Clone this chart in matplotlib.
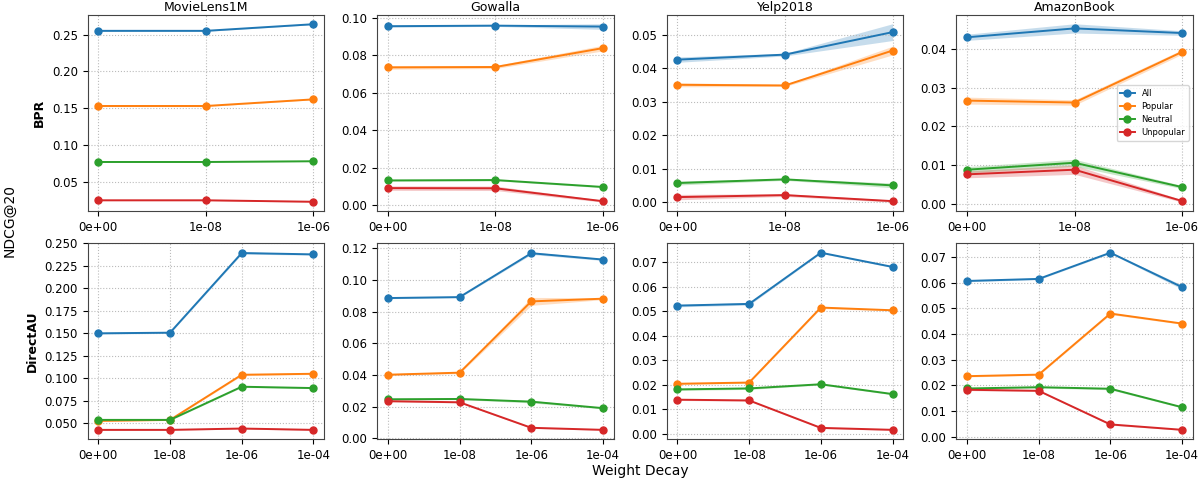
import matplotlib.pyplot as plt
from matplotlib.ticker import MaxNLocator
import numpy as np

# weight decay settings
wd_bpr = ['0e+00', '1e-08', '1e-06']
wd_dau = ['0e+00', '1e-08', '1e-06', '1e-04']

datasets = ['MovieLens1M', 'Gowalla', 'Yelp2018', 'AmazonBook']
groups = ['All', 'Popular', 'Neutral', 'Unpopular']
colors = ['#1f77b4', '#ff7f0e', '#2ca02c', '#d62728']

# BPR means (All, Popular, Neutral, Unpopular)
bpr_ml = [[0.255, 0.255, 0.264], [0.153, 0.153, 0.162], [0.077, 0.077, 0.078], [0.025, 0.025, 0.023]]
bpr_gw = [[0.0955, 0.0958, 0.0953], [0.0735, 0.0737, 0.0838], [0.0131, 0.0133, 0.0096], [0.0090, 0.0089, 0.0020]]
bpr_yp = [[0.0426, 0.0441, 0.0508], [0.0351, 0.0349, 0.0453], [0.0058, 0.0069, 0.0051], [0.0016, 0.0022, 0.0004]]
bpr_ab = [[0.0431, 0.0454, 0.0442], [0.0267, 0.0262, 0.0393], [0.0088, 0.0106, 0.0043], [0.0076, 0.0088, 0.0007]]

# BPR spread
bpr_ml_sd = [[0.0008, 0.0008, 0.0006], [0.0008, 0.0008, 0.0006], [0.0006, 0.0006, 0.0005], [0.0006, 0.0006, 0.0005]]
bpr_gw_sd = [[0.0005, 0.0004, 0.0015], [0.0010, 0.0008, 0.0015], [0.0004, 0.0004, 0.0004], [0.0012, 0.0012, 0.0005]]
bpr_yp_sd = [[0.0008, 0.0004, 0.0025], [0.0006, 0.0003, 0.0013], [0.0006, 0.0003, 0.0007], [0.0008, 0.0004, 0.0003]]
bpr_ab_sd = [[0.0008, 0.0012, 0.0006], [0.0009, 0.0007, 0.0006], [0.0008, 0.0009, 0.0004], [0.0009, 0.0012, 0.0003]]

# DirectAU means
dau_ml = [[0.150, 0.1507, 0.2393, 0.2378], [0.0526, 0.0537, 0.1039, 0.1050],
          [0.0537, 0.0537, 0.0906, 0.0891], [0.0426, 0.0426, 0.0441, 0.0426]]
dau_gw = [[0.0886, 0.0892, 0.1169, 0.1129], [0.0402, 0.0415, 0.0865, 0.0882],
          [0.0247, 0.0249, 0.0232, 0.0191], [0.0235, 0.0228, 0.0067, 0.0054]]
dau_yp = [[0.0523, 0.0530, 0.0739, 0.0681], [0.0204, 0.0209, 0.0515, 0.0504],
          [0.0181, 0.0185, 0.0202, 0.0162], [0.0139, 0.0136, 0.0024, 0.0016]]
dau_ab = [[0.0607, 0.0615, 0.0717, 0.0583], [0.0236, 0.0242, 0.0480, 0.0441],
          [0.0188, 0.0193, 0.0187, 0.0115], [0.0183, 0.0179, 0.0048, 0.0027]]

# DirectAU spread
dau_ml_sd = [[0.0008, 0.0008, 0.0012, 0.0008], [0.0006, 0.0006, 0.0010, 0.0008],
             [0.0006, 0.0006, 0.0008, 0.0006], [0.0005, 0.0005, 0.0006, 0.0005]]
dau_gw_sd = [[0.0004, 0.0004, 0.0008, 0.0006], [0.0006, 0.0006, 0.0025, 0.0006],
             [0.0004, 0.0004, 0.0008, 0.0004], [0.0004, 0.0004, 0.0004, 0.0003]]
dau_yp_sd = [[0.0005, 0.0005, 0.0003, 0.0003], [0.0003, 0.0003, 0.0004, 0.0003],
             [0.0004, 0.0004, 0.0003, 0.0003], [0.0003, 0.0003, 0.0003, 0.0002]]
dau_ab_sd = [[0.0003, 0.0003, 0.0003, 0.0008], [0.0003, 0.0003, 0.0004, 0.0003],
             [0.0003, 0.0003, 0.0004, 0.0003], [0.0003, 0.0003, 0.0003, 0.0002]]

rows = [
    ('BPR', wd_bpr, [bpr_ml, bpr_gw, bpr_yp, bpr_ab], [bpr_ml_sd, bpr_gw_sd, bpr_yp_sd, bpr_ab_sd]),
    ('DirectAU', wd_dau, [dau_ml, dau_gw, dau_yp, dau_ab], [dau_ml_sd, dau_gw_sd, dau_yp_sd, dau_ab_sd]),
]

fig, axes = plt.subplots(2, 4, figsize=(12, 4.79), dpi=100)

for r, (model, ticks, means, sds) in enumerate(rows):
    x = np.arange(len(ticks))
    for c in range(4):
        ax = axes[r, c]
        for g in range(4):
            m = np.array(means[c][g])
            s = np.array(sds[c][g])
            ax.plot(x, m, marker='o', markersize=5, linewidth=1.4, color=colors[g], label=groups[g])
            ax.fill_between(x, m - s, m + s, color=colors[g], alpha=0.25, linewidth=0)
        ax.set_xticks(x)
        ax.set_xticklabels(ticks)
        ax.yaxis.set_major_locator(MaxNLocator(nbins=9, steps=[1, 2, 2.5, 5, 10]))
        ax.tick_params(labelsize=8.5)
        ax.grid(True, linestyle=':', linewidth=0.8, color='#bbbbbb')
        for sp in ax.spines.values():
            sp.set_color('#444444')
        if r == 0:
            ax.set_title(datasets[c], fontsize=9, pad=3)
        if c == 0:
            ax.set_ylabel(model, fontsize=9, fontweight='bold')

axes[0, 3].legend(loc='center right', fontsize=6, handlelength=1.8)

fig.subplots_adjust(left=0.073, right=0.994, top=0.969, bottom=0.083, wspace=0.224, hspace=0.163)
fig.supxlabel('Weight Decay', x=0.534, y=0.002, fontsize=10)
fig.supylabel('NDCG@20', x=0.002, y=0.54, fontsize=10)

plt.savefig('out.png')
